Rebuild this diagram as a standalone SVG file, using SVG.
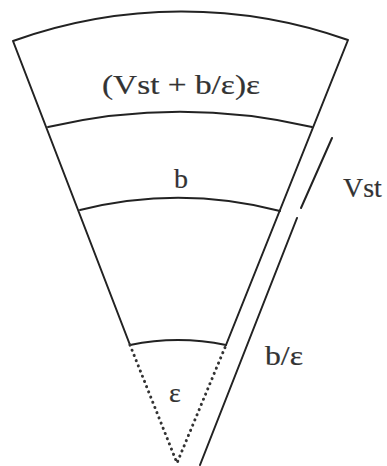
<svg xmlns="http://www.w3.org/2000/svg" width="387" height="466" viewBox="0 0 387 466">
<style>
.ln{fill:none;stroke:#222;stroke-width:2;stroke-linecap:round;stroke-linejoin:round}
.dot{fill:none;stroke:#333;stroke-width:3;stroke-linecap:round;stroke-dasharray:0.1 5.5}
.t{font-family:"Liberation Serif","Times New Roman",serif;font-size:28px;fill:#333;stroke:#333;stroke-width:0.2}
</style>
<rect width="387" height="466" fill="#fff"/>
<g id="sector">
<path class="ln" d="M130,345 L13,41 A498,498 0 0 1 348,40 L226,345"/>
<path class="ln" d="M48,127 A588,588 0 0 1 312,127"/>
<path class="ln" d="M80,210 A406,406 0 0 1 280,211"/>
<path class="ln" d="M130,345 A233,233 0 0 1 226,345"/>
<path class="dot" d="M130,345 L177,463 L226,345"/>
</g>
<g id="dimension">
<path class="ln" d="M332,138 L301,208"/>
<path class="ln" d="M297,218 L200,465"/>
</g>
<g id="labels">
<text class="t" x="102" y="94" textLength="158" lengthAdjust="spacingAndGlyphs">(Vst + b/ε)ε</text>
<text class="t" x="181" y="188" text-anchor="middle">b</text>
<text class="t" x="343" y="197">Vst</text>
<text class="t" x="265" y="365" textLength="38" lengthAdjust="spacingAndGlyphs">b/ε</text>
<text class="t" x="175" y="402" text-anchor="middle">ε</text>
</g>
</svg>
